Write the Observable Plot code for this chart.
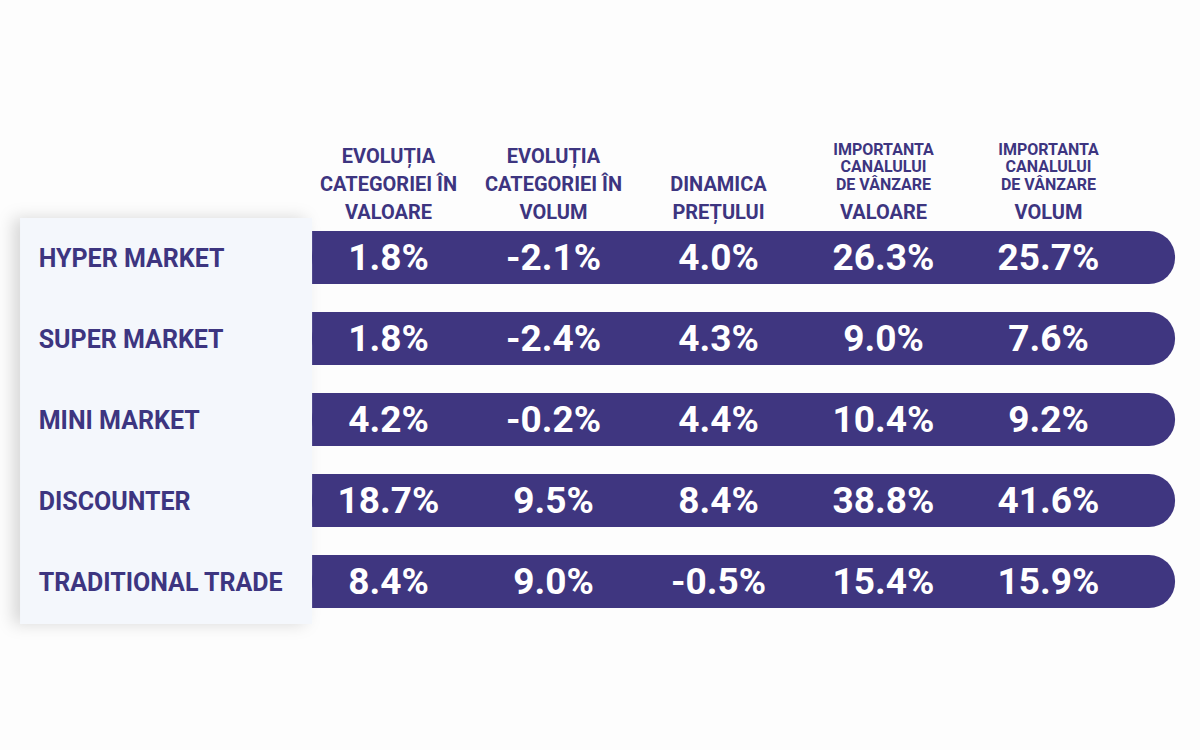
<!DOCTYPE html>
<html>
<head>
<meta charset="utf-8">
<script src="https://cdn.jsdelivr.net/npm/d3@7"></script>
<script src="https://cdn.jsdelivr.net/npm/@observablehq/plot@0.6"></script>
<style>
  html, body { margin: 0; padding: 0; background: #fdfdfd; }
  #chart svg { display: block; }
</style>
</head>
<body>
<div id="chart"></div>
<script>
// ---- data ----
const channels = ["HYPER MARKET", "SUPER MARKET", "MINI MARKET", "DISCOUNTER", "TRADITIONAL TRADE"];
const evolutieValoare = [1.8, 1.8, 4.2, 18.7, 8.4];
const evolutieVolum = [-2.1, -2.4, -0.2, 9.5, 9.0];
const dinamicaPretului = [4.0, 4.3, 4.4, 8.4, -0.5];
const importantaValoare = [26.3, 9.0, 10.4, 38.8, 15.4];
const importantaVolum = [25.7, 7.6, 9.2, 41.6, 15.9];
const headerMain = ["EVOLUȚIA\nCATEGORIEI ÎN\nVALOARE", "EVOLUȚIA\nCATEGORIEI ÎN\nVOLUM", "DINAMICA\nPREȚULUI", "VALOARE", "VOLUM"];
const headerSmall = ["", "", "", "IMPORTANTA\nCANALULUI\nDE VÂNZARE", "IMPORTANTA\nCANALULUI\nDE VÂNZARE"];

// ---- build tables ----
const series = [evolutieValoare, evolutieVolum, dinamicaPretului, importantaValoare, importantaVolum];
const cells = channels.flatMap((ch, i) => series.map((s, j) => ({channel: ch, col: j, value: s[i]})));
const headers = headerMain.map((t, j) => ({col: j, main: t, small: headerSmall[j]}));
const rowsData = channels.map(ch => ({channel: ch}));

const purple = "#3f3680";
const ink = "#3d3580";
const font = "Roboto, 'Noto Sans', sans-serif";

const chart = Plot.plot({
  width: 1200,
  height: 750,
  margin: 0,
  style: {background: "#fdfdfd", fontFamily: font},
  x: {type: "linear", domain: [0, 4], range: [388, 1048], axis: null},
  y: {type: "band", domain: channels, range: [230, 609], paddingInner: 0.35, paddingOuter: 0, axis: null},
  marks: [
    // left label panel
    Plot.barX(rowsData, {y: "channel", x1: -2.23, x2: -0.46, fill: "#f4f7fc", insetTop: -13, insetBottom: -16}),
    // row bars (rounded right end)
    Plot.barX(rowsData, {y: "channel", x1: -0.46, x2: 4.77, fill: purple, rx: 26}),
    Plot.barX(rowsData, {y: "channel", x1: -0.46, x2: 0, fill: purple}),
    // row labels
    Plot.text(rowsData, {y: "channel", x: -2.12, text: "channel", textAnchor: "start", fill: ink, fontSize: 25, fontWeight: 700, dy: 1}),
    // values
    Plot.text(cells, {y: "channel", x: "col", text: d => d.value.toFixed(1) + "%", fill: "white", fontSize: 37, fontWeight: 700}),
    // headers
    Plot.text(headers, {x: "col", y: () => channels[0], text: "main", dy: -39, lineAnchor: "bottom", lineHeight: 1.4, fill: ink, fontSize: 20, fontWeight: 700}),
    Plot.text(headers, {x: "col", y: () => channels[0], text: "small", dy: -68, lineAnchor: "bottom", lineHeight: 1.1, fill: ink, fontSize: 16, fontWeight: 700})
  ]
});

// soft shadow on the label panel (first bar mark)
const panelGroup = chart.querySelector('g[aria-label="bar"]');
if (panelGroup) panelGroup.style.filter = "drop-shadow(-7px 0px 8px rgba(0,0,0,0.15))";
document.getElementById("chart").append(chart);
</script>
</body>
</html>
